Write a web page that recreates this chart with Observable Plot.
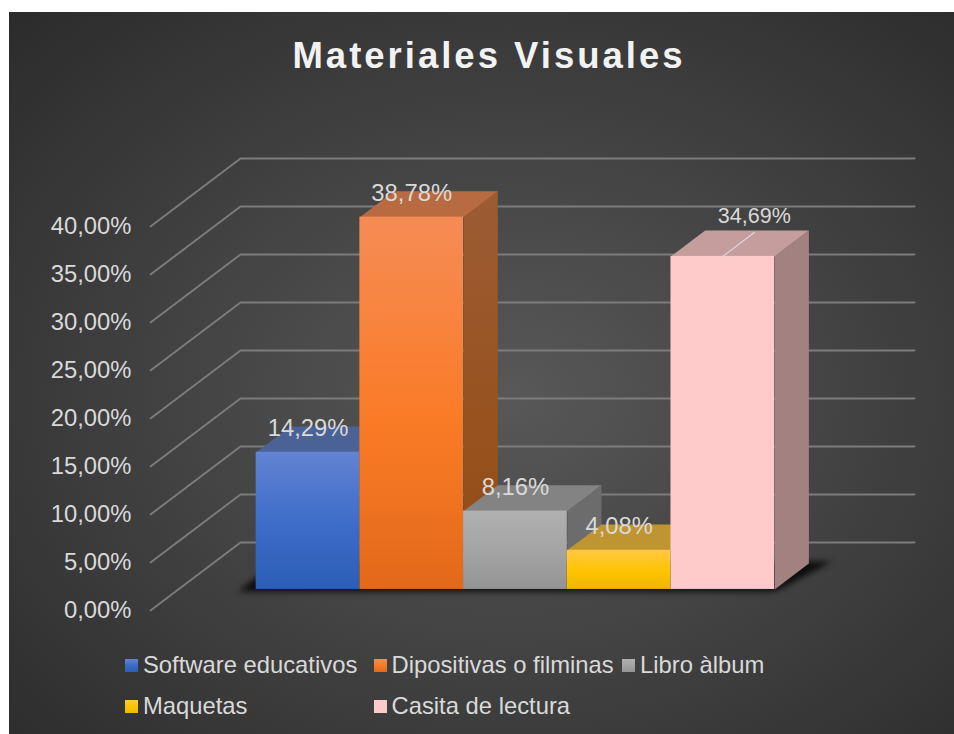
<!DOCTYPE html>
<html>
<head>
<meta charset="utf-8">
<script src="https://cdn.jsdelivr.net/npm/d3@7"></script>
<script src="https://cdn.jsdelivr.net/npm/@observablehq/plot@0.6"></script>
<style>
html,body{margin:0;padding:0;background:#fff;}
#panel{position:absolute;left:9px;top:12px;width:945px;height:722px;overflow:hidden;
 background:radial-gradient(ellipse 75% 75% at 53% 53%,#585858 0%,#2b2b2b 100%);
 font-family:"Liberation Sans",Arial,sans-serif;}
#title{position:absolute;left:0;width:960px;top:21px;text-align:center;color:#f2f2f2;font-weight:bold;font-size:36.5px;letter-spacing:3px;line-height:46px;}
#chart{position:absolute;left:0;top:78px;}
#legend{position:absolute;left:116px;top:632.5px;display:grid;grid-template-columns:248.5px 248.5px 248.5px;grid-auto-rows:41px;color:#d9d9d9;font-size:23.8px;}
#legend .item{display:flex;align-items:center;height:41px;white-space:nowrap;}
#legend .sw{width:13px;height:13px;margin-right:5px;flex:none;}
.floor-shadow{filter:blur(3px);}
</style>
</head>
<body>
<div id="panel">
  <div id="title"></div>
  <div id="chart"></div>
  <div id="legend"></div>
</div>
<svg width="0" height="0" style="position:absolute">
  <defs id="grads"></defs>
</svg>
<script>
const chartTitle = "Materiales Visuales";
const categories = ["Software educativos", "Dipositivas o filminas", "Libro àlbum", "Maquetas", "Casita de lectura"];
const values = [14.29, 38.78, 8.16, 4.08, 34.69];
const tickValues = [0, 5, 10, 15, 20, 25, 30, 35, 40];

const frontStops = [
  ["#6383d3", "#3a6cc8", "#2b5eb6"],
  ["#f58c55", "#fa7b26", "#e2691a"],
  ["#b0b0b0", "#a3a3a3", "#949494"],
  ["#ffc843", "#ffc400", "#ecb600"],
  ["#ffcaca", "#ffcaca", "#ffcaca"]
];
const topFaces = ["#4a6295", "#b86b40", "#838383", "#bf9531", "#c59d9d"];
const sideFaces = ["#2f4a80", "#9c5a30", "#6c6c6c", "#8f7020", "#a38181"];

// oblique projection of the floor and walls
const pxPerValue = 9.6, pxPerCat = 103.7;
const depthX = 90 / pxPerCat, depthY = 68 / pxPerValue;
const gap = 0.75, barD0 = 0.31, barD1 = 0.69;
const floorLen = categories.length + 2 * gap;
const pt = (u, d, v) => ({x: u + d * depthX, y: v + d * depthY});

const W = 945, H = 560, left = 122;
const X0 = 141; // panel x of the floor's front-left corner (u = 0)
const Y0 = 520; // chart y of value 0 at the front

const defs = document.getElementById("grads");
defs.innerHTML = frontStops.map((s, i) =>
  `<linearGradient id="front${i}" x1="0" y1="0" x2="0" y2="1">
    <stop offset="0" stop-color="${s[0]}"/><stop offset="0.55" stop-color="${s[1]}"/><stop offset="1" stop-color="${s[2]}"/>
  </linearGradient>`).join("") +
  `<linearGradient id="side1" x1="0" y1="0" x2="0" y2="1"><stop offset="0" stop-color="#9c5c33"/><stop offset="1" stop-color="#934b12"/></linearGradient>`;

const grid = tickValues.flatMap(v => [
  {v, ...pt(0, 0, v)},
  {v, ...pt(0, 1, v)},
  {v, ...pt(floorLen, 1, v)}
]);

const shadow = [
  pt(gap - 0.15, barD0 - 0.03, 0),
  pt(gap + categories.length + 0.03, barD0 - 0.03, 0),
  pt(gap + categories.length + 0.2, barD1 + 0.03, 0),
  pt(gap - 0.15, barD1 + 0.03, 0)
];

const fmt = v => d3.format(".2f")(v).replace(".", ",") + "%";

const barMarks = categories.flatMap((c, i) => {
  const u0 = gap + i, u1 = u0 + 1, v = values[i];
  const top = [pt(u0, barD0, v), pt(u1, barD0, v), pt(u1, barD1, v), pt(u0, barD1, v)];
  const side = [pt(u1, barD0, 0), pt(u1, barD1, 0), pt(u1, barD1, v), pt(u1, barD0, v)];
  const f = pt(u0, barD0, 0), g = pt(u1, barD0, v);
  return [
    Plot.line(side, {x: "x", y: "y", fill: i === 1 ? "url(#side1)" : sideFaces[i], stroke: "none"}),
    Plot.line(top, {x: "x", y: "y", fill: topFaces[i], stroke: "none"}),
    Plot.rect([{c}], {x1: () => f.x, x2: () => g.x, y1: () => f.y, y2: () => g.y, fill: `url(#front${i})`, inset: 0})
  ];
});

// data labels: centred over each bar; the last one is moved back with a leader line
const labelRows = categories.map((c, i) => {
  const last = i === categories.length - 1;
  const p = pt(gap + i + 0.5, barD0 + (last ? 0.35 : 0), values[i]);
  return {x: p.x, y: p.y + (last ? 16.5 : 24) / pxPerValue, text: fmt(values[i]), last};
});
const li = categories.length - 1;
const leader = [pt(gap + li + 0.5, barD0, values[li]), pt(gap + li + 0.5, barD0 + 0.35, values[li])];

const plot = Plot.plot({
  width: W, height: H,
  marginLeft: left, marginRight: 0, marginTop: 0, marginBottom: 0,
  x: {domain: [(left - X0) / pxPerCat, (W - X0) / pxPerCat], range: [left, W], axis: null},
  y: {domain: [(Y0 - H) / pxPerValue, Y0 / pxPerValue], range: [H, 0]},
  style: {background: "transparent", overflow: "visible", fontFamily: '"Liberation Sans",Arial,sans-serif'},
  marks: [
    Plot.axisY({ticks: tickValues, tickSize: 0, tickPadding: 0, tickFormat: fmt, fontSize: 23.8, color: "#d9d9d9", label: null}),
    Plot.line(grid, {x: "x", y: "y", z: "v", stroke: "#7c7c7c", strokeWidth: 1.9}),
    Plot.line(shadow, {x: "x", y: "y", fill: "#0c0c0c", stroke: "none", className: "floor-shadow"}),
    ...barMarks,
    Plot.line(leader, {x: "x", y: "y", stroke: "#d9d9d9", strokeWidth: 1.2}),
    Plot.text(labelRows.filter(d => !d.last), {x: "x", y: "y", text: "text", fill: "#d9d9d9", fontSize: 23.8, textAnchor: "middle"}),
    Plot.text(labelRows.filter(d => d.last), {x: "x", y: "y", text: "text", fill: "#d9d9d9", fontSize: 21.5, textAnchor: "middle"})
  ]
});
document.getElementById("chart").appendChild(plot);

document.getElementById("title").textContent = chartTitle;
document.getElementById("legend").innerHTML = categories.map((c, i) =>
  `<div class="item"><span class="sw" style="background:linear-gradient(${frontStops[i].join(",")})"></span><span>${c}</span></div>`).join("");
</script>
</body>
</html>
